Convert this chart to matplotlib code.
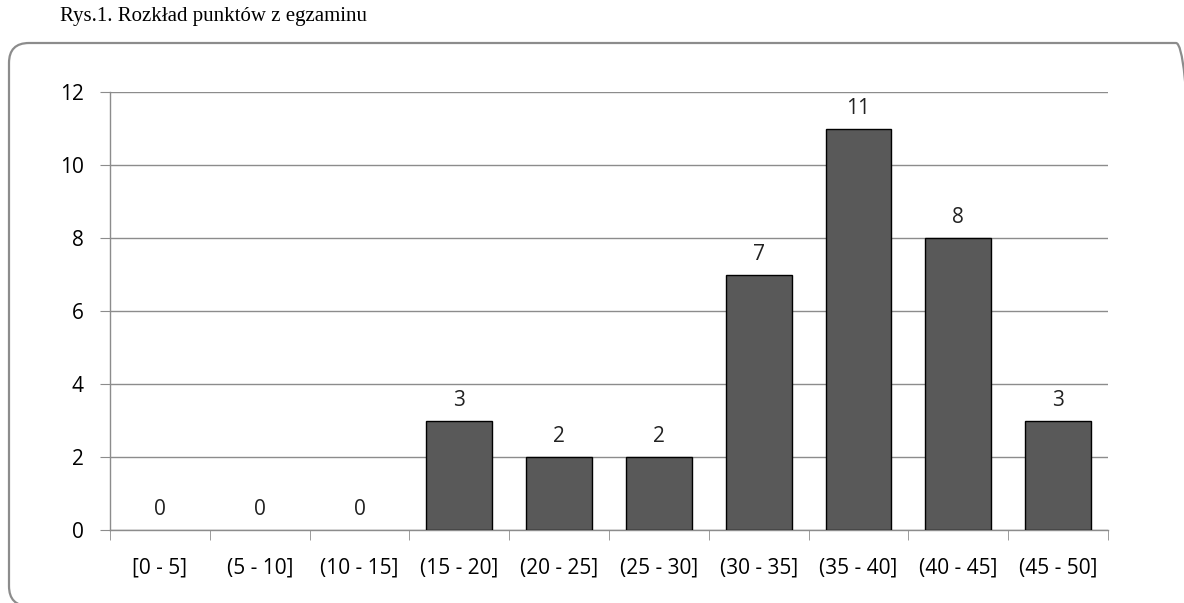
import numpy as np
import matplotlib.pyplot as plt
from matplotlib.patches import FancyBboxPatch
from matplotlib.transforms import IdentityTransform

# przedzialy punktowe i liczba studentow
przedzialy = ['[0 - 5]', '(5 - 10]', '(10 - 15]', '(15 - 20]', '(20 - 25]',
              '(25 - 30]', '(30 - 35]', '(35 - 40]', '(40 - 45]', '(45 - 50]']
liczba = [0, 0, 0, 3, 2, 2, 7, 11, 8, 3]
y_ticks = [0, 2, 4, 6, 8, 10, 12]

W, H = 1184, 603
fig = plt.figure(figsize=(W/100, H/100), dpi=100)
font = ['Open Sans', 'DejaVu Sans']

# ramka wykresu (zaokraglone rogi), w pikselach
frame = FancyBboxPatch((9, -3), 1196-9, 560+3,
                       boxstyle='round,pad=0,rounding_size=20',
                       transform=IdentityTransform(), fill=False,
                       edgecolor='#8c8c8c', linewidth=1.6, clip_on=False)
fig.patches.append(frame)

fig.text(60/W, 1-16/H, 'Rys.1. Rozkład punktów z egzaminu', family='Liberation Serif',
         fontsize=15, va='center', ha='left')

ax = fig.add_axes([110/W, 1-530/H, (1108-110)/W, (530-92)/H])
x = np.arange(len(przedzialy))
edges = ['black' if v > 0 else 'none' for v in liczba]
ax.bar(x, liczba, width=0.66, color='#595959', edgecolor=edges, linewidth=1, zorder=3)

for xi, v in zip(x, liczba):
    ax.annotate(str(v), (xi, v), xytext=(0, 7), textcoords='offset points',
                ha='center', va='bottom', fontsize=15, family=font, color='#222222')

ax.set_xlim(-0.5, len(przedzialy)-0.5)
ax.set_ylim(0, 12)
ax.set_yticks(y_ticks)
ax.set_yticklabels([str(t) for t in y_ticks], family=font, fontsize=15)
ax.yaxis.grid(True, color='#8c8c8c', linewidth=1, zorder=0)

ax.set_xticks(x)
ax.set_xticklabels(przedzialy, family=font, fontsize=15)
ax.set_xticks(np.arange(-0.5, len(przedzialy)), minor=True)
ax.tick_params(axis='x', which='major', length=0, pad=20)
ax.tick_params(axis='x', which='minor', length=7, color='#8c8c8c', direction='out')
ax.tick_params(axis='y', length=7, color='#8c8c8c', pad=12)

for s in ['top', 'right']:
    ax.spines[s].set_visible(False)
for s in ['left', 'bottom']:
    ax.spines[s].set_color('#8c8c8c')
    ax.spines[s].set_linewidth(1)

fig.savefig('out.png', dpi=100)
